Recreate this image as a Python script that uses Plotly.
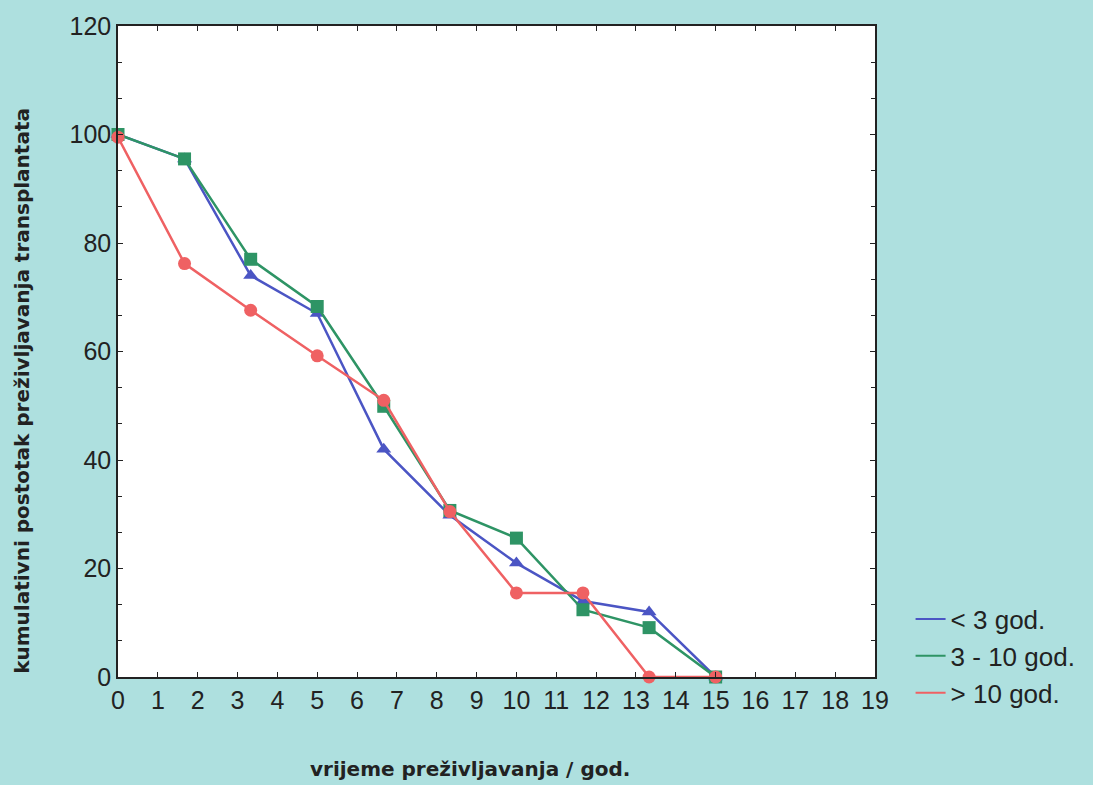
import plotly.graph_objects as go

years = [0, 1.67, 3.33, 5, 6.67, 8.33, 10, 11.67, 13.33, 15]
under3 = [100, 95.5, 74, 67, 42, 29.8, 21, 14, 12, 0]
mid3_10 = [100, 95.5, 77, 68.3, 49.9, 30.7, 25.6, 12.4, 9.1, 0]
over10 = [99.5, 76.2, 67.6, 59.2, 51, 30.5, 15.5, 15.5, 0, 0]

names = ["< 3 god.", "3 - 10 god.", "> 10 god."]
colors = ["#4b55c4", "#2e9465", "#ef6163"]
symbols = ["triangle-up", "square", "circle"]
series = [under3, mid3_10, over10]

x_title = "vrijeme preživljavanja / god."
y_title = "kumulativni postotak preživljavanja transplantata"

fig = go.Figure()
for name, ys, c, s in zip(names, series, colors, symbols):
    fig.add_trace(go.Scatter(x=years, y=ys, mode="lines+markers", name=name,
                             line=dict(color=c, width=2.5),
                             marker=dict(symbol=s, size=13, color=c),
                             showlegend=False, cliponaxis=False))
for name, c in zip(names, colors):
    fig.add_trace(go.Scatter(x=[None], y=[None], mode="lines", name=name,
                             line=dict(color=c, width=2)))

font = "Liberation Sans, Arial, sans-serif"
title_font = dict(family="DejaVu Sans", size=20, color="#222222", weight="bold")
fig.update_layout(
    width=1093, height=785,
    margin=dict(l=118, r=216, t=20, b=108),
    paper_bgcolor="#aee0df",
    plot_bgcolor="white",
    font=dict(family=font, color="#222222", size=25),
    legend=dict(x=1.047, y=0.125, xanchor="left", yanchor="top",
                bgcolor="rgba(0,0,0,0)", itemwidth=30,
                font=dict(size=26, color="#222222"), tracegroupgap=0),
    xaxis=dict(range=[0, 19], dtick=1, tick0=0, showgrid=False, zeroline=False,
               showline=True, linecolor="#222222", linewidth=1.5, mirror="allticks",
               ticks="inside", ticklen=5, tickcolor="#222222"),
    yaxis=dict(range=[0, 120], dtick=20, tick0=0, showgrid=False, zeroline=False,
               showline=True, linecolor="#222222", linewidth=1.5, mirror="allticks",
               ticks="inside", ticklen=5, tickcolor="#222222",
               minor=dict(dtick=20/3, ticks="inside", ticklen=4, tickcolor="#222222")),
    annotations=[
        dict(text=x_title, xref="paper", yref="paper", x=(470 - 118) / 758,
             y=-(770 - 677) / 657, xanchor="center", yanchor="middle",
             showarrow=False, font=title_font),
        dict(text=y_title, xref="paper", yref="paper", x=-(118 - 22) / 758,
             y=(677 - 388) / 657, xanchor="center", yanchor="middle",
             textangle=-90, showarrow=False, font=title_font),
    ],
)

fig.write_html("out.html", config={"displayModeBar": False},
               post_script="document.body.style.margin='0';")
